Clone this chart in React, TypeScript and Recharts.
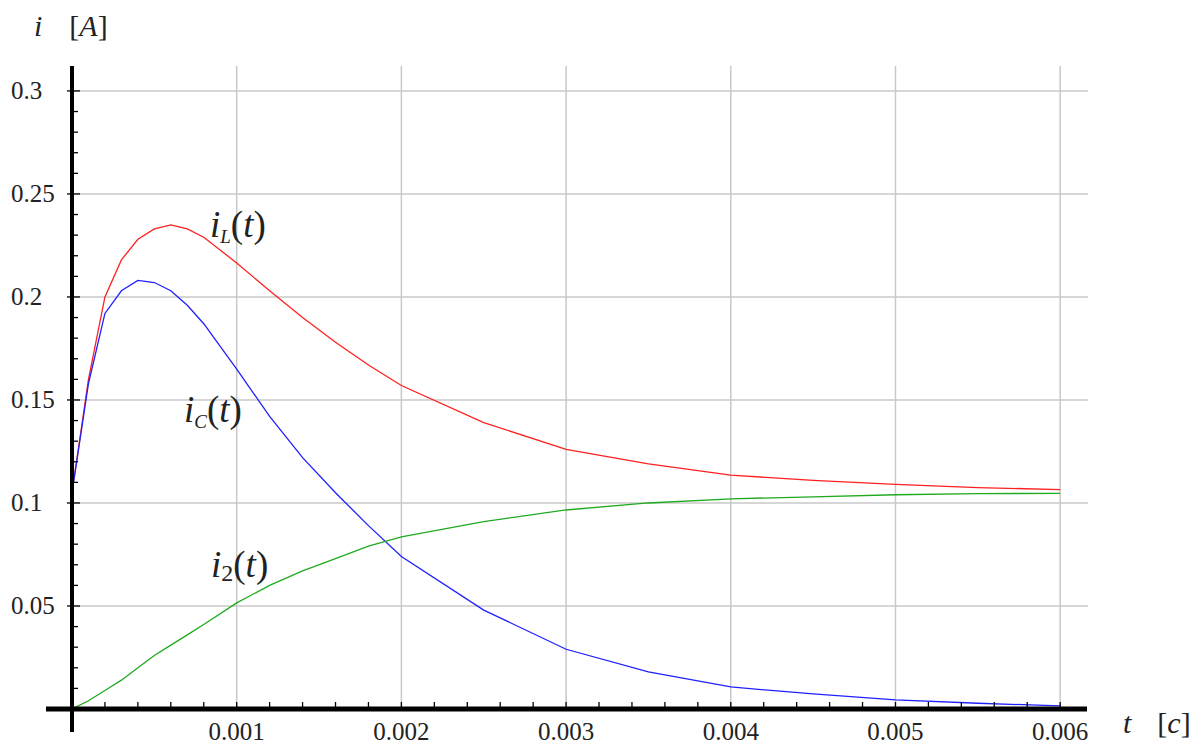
import { LineChart, Line, XAxis, YAxis, CartesianGrid, ReferenceLine } from 'recharts';

// time in seconds
const times = [
  0, 0.0001, 0.0002, 0.0003, 0.0004, 0.0005, 0.0006, 0.0007, 0.0008, 0.001,
  0.0012, 0.0014, 0.0016, 0.0018, 0.002, 0.0025, 0.003, 0.0035, 0.004,
  0.0045, 0.005, 0.0055, 0.006,
];
const iL = [
  0.105, 0.16, 0.2, 0.218, 0.228, 0.233, 0.235, 0.233, 0.229, 0.2165,
  0.203, 0.19, 0.178, 0.167, 0.157, 0.139, 0.126, 0.119, 0.1135,
  0.111, 0.109, 0.1075, 0.1065,
];
const iC = [
  0.105, 0.158, 0.192, 0.203, 0.208, 0.207, 0.203, 0.196, 0.187, 0.165,
  0.142, 0.122, 0.105, 0.089, 0.074, 0.048, 0.029, 0.018, 0.0107,
  0.0073, 0.0044, 0.0028, 0.0015,
];
const i2 = [
  0, 0.004, 0.009, 0.014, 0.02, 0.026, 0.031, 0.036, 0.041, 0.0515,
  0.06, 0.067, 0.073, 0.079, 0.0835, 0.091, 0.0966, 0.1, 0.102,
  0.103, 0.104, 0.1045, 0.1047,
];

const xMajor = [0.001, 0.002, 0.003, 0.004, 0.005, 0.006];
const xTicks = [
  0, 0.0002, 0.0004, 0.0006, 0.0008, 0.001, 0.0012, 0.0014, 0.0016, 0.0018,
  0.002, 0.0022, 0.0024, 0.0026, 0.0028, 0.003, 0.0032, 0.0034, 0.0036, 0.0038,
  0.004, 0.0042, 0.0044, 0.0046, 0.0048, 0.005, 0.0052, 0.0054, 0.0056, 0.0058,
  0.006,
];
const yMajor = [0.05, 0.1, 0.15, 0.2, 0.25, 0.3];
const yTicks = [
  0, 0.01, 0.02, 0.03, 0.04, 0.05, 0.06, 0.07, 0.08, 0.09, 0.1, 0.11, 0.12,
  0.13, 0.14, 0.15, 0.16, 0.17, 0.18, 0.19, 0.2, 0.21, 0.22, 0.23, 0.24, 0.25,
  0.26, 0.27, 0.28, 0.29, 0.3,
];

const data = times.map((t, k) => ({ t, iL: iL[k], iC: iC[k], i2: i2[k] }));

const FONT = "'Liberation Serif', 'DejaVu Serif', serif";
const serif = { fontFamily: FONT };

const isMajor = (list: number[], v: number) => list.some((m) => Math.abs(m - v) < 1e-9);

const YTick = ({ x, y, payload }: any) => {
  const major = isMajor(yMajor, payload.value);
  return (
    <g>
      {major ? (
        <line x1={x - 5} x2={x + 8} y1={y} y2={y} stroke="#000" strokeWidth={1.3} />
      ) : (
        <line x1={x} x2={x + 6} y1={y} y2={y} stroke="#000" strokeWidth={1.3} />
      )}
      {major && (
        <text x={11} y={y} dominantBaseline="central" textAnchor="start"
          style={serif} fontSize={25} fill="#222">
          {String(payload.value)}
        </text>
      )}
    </g>
  );
};

const XTick = ({ x, y, payload }: any) => {
  const major = isMajor(xMajor, payload.value);
  return (
    <g>
      <line x1={x} x2={x} y1={y - 7} y2={y} stroke="#000" strokeWidth={1.3} />
      {major && (
        <text x={x} y={y + 22} dominantBaseline="central" textAnchor="middle"
          style={serif} fontSize={25} fill="#222">
          {String(payload.value)}
        </text>
      )}
    </g>
  );
};

export default function App() {
  return (
    <div style={{ position: 'absolute', left: 0, top: 0, width: 1202, height: 743, background: '#fff' }}>
      <LineChart
        width={1202}
        height={743}
        data={data}
        margin={{ top: 66, right: 114, left: 12, bottom: 0 }}
      >
        <CartesianGrid
          horizontalValues={yMajor}
          verticalValues={xMajor}
          stroke="#c8c8c8"
          strokeWidth={1.5}
        />
        <XAxis
          type="number"
          dataKey="t"
          domain={[0, 0.006169]}
          ticks={xTicks}
          interval={0}
          allowDataOverflow
          axisLine={false}
          tickLine={false}
          tickSize={0}
          tickMargin={0}
          height={34}
          tick={<XTick />}
        />
        <YAxis
          type="number"
          domain={[0, 0.3121]}
          ticks={yTicks}
          interval={0}
          allowDataOverflow
          axisLine={false}
          tickLine={false}
          tickSize={0}
          tickMargin={0}
          width={60}
          tick={<YTick />}
        />
        <Line type="linear" dataKey="iL" stroke="#ff2020" strokeWidth={1.3} dot={false} isAnimationActive={false} />
        <Line type="linear" dataKey="iC" stroke="#2020ff" strokeWidth={1.3} dot={false} isAnimationActive={false} />
        <Line type="linear" dataKey="i2" stroke="#1faa1f" strokeWidth={1.3} dot={false} isAnimationActive={false} />
        <ReferenceLine
          segment={[{ x: -0.000158, y: 0 }, { x: 0.006163, y: 0 }]}
          stroke="#000"
          strokeWidth={5}
          ifOverflow="visible"
        />
        <ReferenceLine
          segment={[{ x: 0, y: -0.0112 }, { x: 0, y: 0.3121 }]}
          stroke="#000"
          strokeWidth={4}
          ifOverflow="visible"
        />
      </LineChart>
      <svg width={1202} height={743} style={{ position: 'absolute', left: 0, top: 0, pointerEvents: 'none' }}>
        <g style={serif} fill="#222">
          <text x={34} y={36} fontSize={30}>
            <tspan fontStyle="italic">i</tspan>
            <tspan dx={27}>[</tspan>
            <tspan fontStyle="italic">A</tspan>
            <tspan>]</tspan>
          </text>
          <text x={1123} y={733} fontSize={30}>
            <tspan fontStyle="italic">t</tspan>
            <tspan dx={26}>[</tspan>
            <tspan fontStyle="italic">c</tspan>
            <tspan>]</tspan>
          </text>
          <text x={210} y={237} fontSize={37}>
            <tspan fontStyle="italic">i</tspan>
            <tspan fontStyle="italic" fontSize={19} dy={6}>L</tspan>
            <tspan dy={-6}>(</tspan>
            <tspan fontStyle="italic">t</tspan>
            <tspan>)</tspan>
          </text>
          <text x={184} y={422} fontSize={37}>
            <tspan fontStyle="italic">i</tspan>
            <tspan fontStyle="italic" fontSize={19} dy={6}>C</tspan>
            <tspan dy={-6}>(</tspan>
            <tspan fontStyle="italic">t</tspan>
            <tspan>)</tspan>
          </text>
          <text x={211} y={577} fontSize={37}>
            <tspan fontStyle="italic">i</tspan>
            <tspan fontSize={24} dy={4}>2</tspan>
            <tspan dy={-4}>(</tspan>
            <tspan fontStyle="italic">t</tspan>
            <tspan>)</tspan>
          </text>
        </g>
      </svg>
    </div>
  );
}
